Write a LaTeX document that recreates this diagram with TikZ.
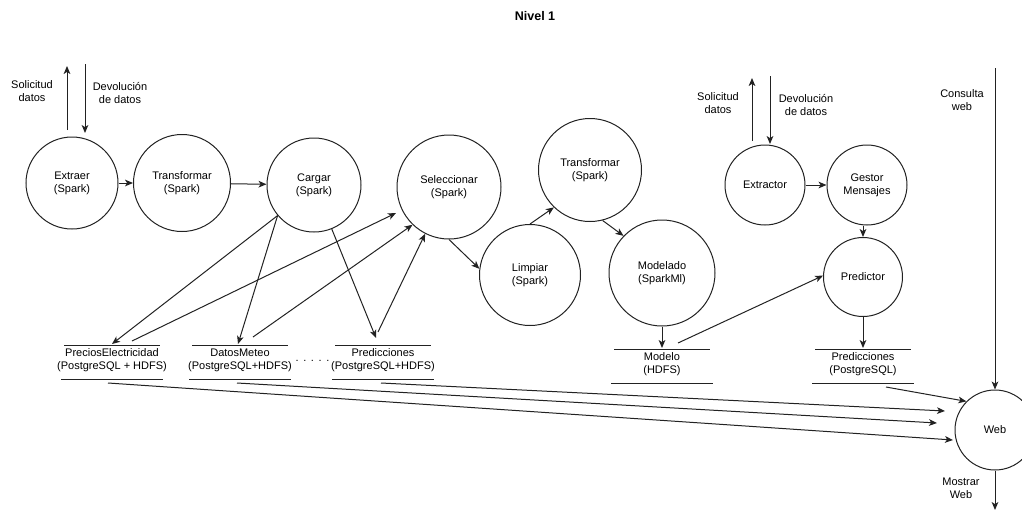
\documentclass[tikz,border=0pt]{standalone}
\usepackage{fontspec}
\setmainfont{Liberation Sans}
\usetikzlibrary{arrows.meta,calc}
\definecolor{lc}{HTML}{222222}
\newcommand\dfont{\fontsize{8.25pt}{9.9pt}\selectfont}
\tikzset{
  proc/.style={circle, draw=lc, line width=0.75pt, inner sep=0pt, minimum size=#1*0.75pt, align=center, font=\dfont, text=black},
  arr/.style={draw=lc, line width=0.75pt, -{Stealth[length=6pt,width=5pt,inset=1.6pt]}},
  lbl/.style={align=center, font=\dfont, inner sep=0pt, text=black},
  storeline/.style={draw=lc, line width=0.75pt},
}
\newcommand\dstore[3]{%
  \node[lbl] (#1) at (#2) {#3};
  \draw[storeline] ($(#1.center)+(-48,-15)$) -- ++(96,0);
  \draw[storeline] ($(#1.center)+(-51,19)$) -- ++(102,0);
}
\begin{document}
\begin{tikzpicture}[x=0.75pt,y=-0.75pt]
\useasboundingbox (0,0) rectangle (1022,512);

% title
\node[lbl, font=\fontsize{9.4pt}{11pt}\selectfont\bfseries] (title) at (535,16) {Nivel 1};

% processes
\node[proc=92]  (ext)  at (72,183)  {Extraer\\(Spark)};
\node[proc=97]  (tr1)  at (182,183) {Transformar\\(Spark)};
\node[proc=94]  (car)  at (314,185) {Cargar\\(Spark)};
\node[proc=104] (sel)  at (449,187) {Seleccionar\\(Spark)};
\node[proc=103] (tr2)  at (590,170) {Transformar\\(Spark)};
\node[proc=101] (lim)  at (530,275) {Limpiar\\(Spark)};
\node[proc=106] (mod)  at (662,273) {Modelado\\(SparkMl)};
\node[proc=80]  (extr) at (765,185) {Extractor};
\node[proc=80]  (gest) at (867,185) {Gestor\\Mensajes};
\node[proc=79]  (pred) at (863,277) {Predictor};
\node[proc=80]  (web)  at (995,430) {Web};

% stores
\dstore{pe}{112,360}{PreciosElectricidad\\(PostgreSQL + HDFS)}
\dstore{dm}{240,360}{DatosMeteo\\(PostgreSQL+HDFS)}
\dstore{prs}{383,360}{Predicciones\\(PostgreSQL+HDFS)}
\dstore{mdl}{662,364}{Modelo\\(HDFS)}
\dstore{ppg}{863,364}{Predicciones\\(PostgreSQL)}
\node[lbl, anchor=base] (dots) at (312.5,361) {.\hspace{3.5pt}.\hspace{3.5pt}.\hspace{3.5pt}.\hspace{3.5pt}.};

% labels
\node[lbl] (sol1) at (32,91)  {Solicitud\\datos};
\node[lbl] (dev1) at (120,93) {Devolución\\de datos};
\node[lbl] (sol2) at (718,103) {Solicitud\\datos};
\node[lbl] (dev2) at (806,105) {Devolución\\de datos};
\node[lbl] (cons) at (962,100) {Consulta\\web};
\node[lbl] (most) at (961,488) {Mostrar\\Web};

% free ends
\coordinate (u1s) at (67,130);  \coordinate (u1e) at (67,66);
\coordinate (d1s) at (85,64);   \coordinate (d1e) at (85,133);
\coordinate (u2s) at (752,141); \coordinate (u2e) at (752,78);
\coordinate (d2s) at (770,76);  \coordinate (d2e) at (770,144);
\coordinate (cw)  at (995,68);
\coordinate (mw)  at (995,510);

% connectors
\draw[arr] (u1s) -- (u1e);
\draw[arr] (d1s) -- (d1e);
\draw[arr] (u2s) -- (u2e);
\draw[arr] (d2s) -- (d2e);
\draw[arr] (ext) -- (tr1);
\draw[arr] (tr1) -- (car);
\draw[arr] (extr) -- (gest);

\draw[arr] (car.220) -- ($(pe.center)+(0,-16)$);
\draw[arr] (car.220) -- ($(dm.center)+(-2,-16)$);
\draw[arr] (car.292) -- ($(prs.center)+(-7,-22)$);
\draw[arr] ($(pe.center)+(20,-19)$) -- ($(sel.center)+(-53,26)$);
\draw[arr] ($(dm.center)+(13,-23)$) -- (sel.226);
\draw[arr] ($(prs.center)+(-5,-28)$) -- (sel.243);
\draw[arr] (sel.270) -- (lim.173);
\draw[arr] (lim.90) -- (tr2.226);
\draw[arr] (tr2.284) -- (mod.136);
\draw[arr] (mod.south) -- ($(mdl.center)+(0,-16)$);
\draw[arr] ($(mdl.center)+(16,-21)$) -- (pred.178);
\draw[arr] (gest.south -| pred.north) -- (pred.north);
\draw[arr] (pred.south) -- ($(ppg.center)+(0,-16)$);
\draw[arr] ($(ppg.center)+(23,23)$) -- (web.135);
\draw[arr] ($(prs.center)+(-2,23)$) -- ($(web.center)+(-50,-19)$);
\draw[arr] ($(dm.center)+(-3,23)$) -- ($(web.center)+(-58,-7)$);
\draw[arr] ($(pe.center)+(-4,23)$) -- ($(web.center)+(-42,10)$);
\draw[arr] (cw) -- (web.north);
\draw[arr] (web.south) -- (mw);
\end{tikzpicture}
\end{document}
